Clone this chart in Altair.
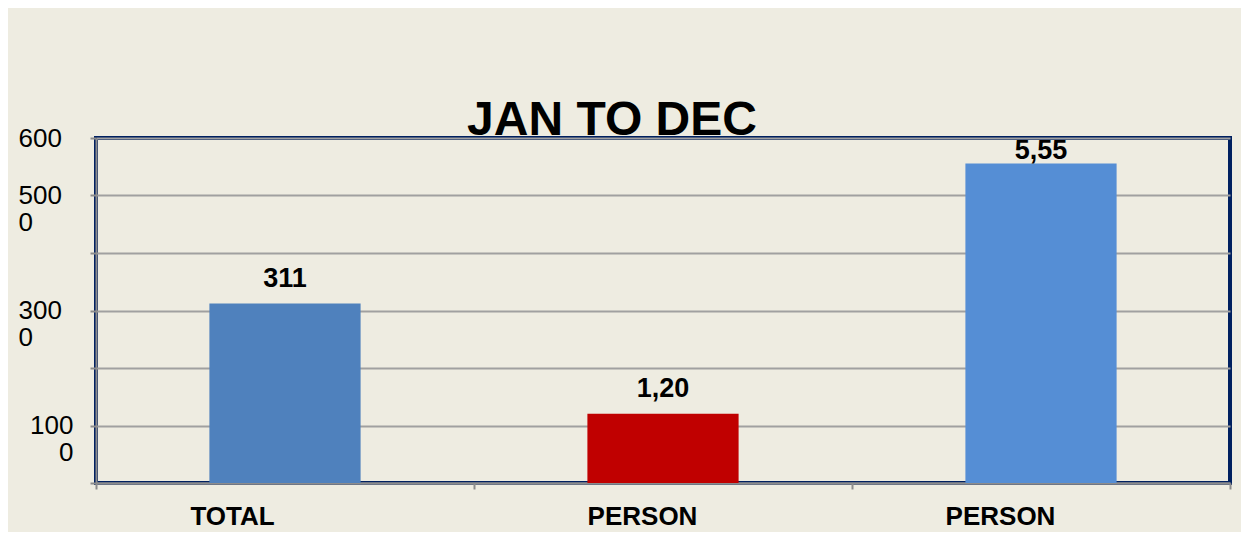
import json
import altair as alt
import pandas as pd

# ---- data ----
categories = ["TOTAL", "PERSON", "PERSON"]
values = [3120, 1205, 5555]
value_labels = ["311", "1,20", "5,55"]
bar_colors = ["#4F81BD", "#C00000", "#558ED5"]
y_tick_values = [0, 1000, 2000, 3000, 4000, 5000, 6000]
y_tick_labels = ["", "100|0", "", "300|0", "", "500|0", "600"]
title_text = "JAN TO DEC"

df = pd.DataFrame({
    "idx": list(range(len(categories))),
    "category": categories,
    "value": values,
    "label": value_labels,
    "color": bar_colors,
})

FONT = "Liberation Sans"
GRAY = "#8C8C8C"

x_label_expr = f"{json.dumps(categories)}[datum.value]"
y_label_expr = (
    f"split({json.dumps(y_tick_labels)}[indexof({json.dumps(y_tick_values)}, datum.value)], '|')"
)

x_enc = alt.X(
    "idx:O",
    scale=alt.Scale(paddingInner=0, paddingOuter=0),
    axis=alt.Axis(
        title=None,
        labelExpr=x_label_expr,
        labelAngle=0,
        labelFont=FONT,
        labelFontSize=26,
        labelFontWeight="bold",
        labelColor="black",
        labelPadding=14,
        labelBaseline="top",
        labelOffset={
            "condition": [
                {"test": "datum.value == 0", "value": -53},
                {"test": "datum.value == 1", "value": -21},
            ],
            "value": -41,
        },
        tickBand="extent",
        tickSize=6,
        tickWidth=2,
        tickColor=GRAY,
        domainColor=GRAY,
        domainWidth=2,
        grid=False,
    ),
)

y_enc = alt.Y(
    "value:Q",
    scale=alt.Scale(domain=[0, 6000], nice=False),
    axis=alt.Axis(
        title=None,
        values=y_tick_values,
        labelExpr=y_label_expr,
        labelFont=FONT,
        labelFontSize=26,
        labelColor="black",
        labelBaseline="top",
        labelOffset=-13,
        labelLineHeight=27,
        labelOverlap=False,
        labelFlush=False,
        labelAlign={"condition": {"test": "datum.value == 1000", "value": "right"}, "value": "left"},
        labelPadding={"condition": {"test": "datum.value == 1000", "value": 17}, "value": 72},
        tickSize=6,
        tickWidth=2,
        tickColor=GRAY,
        domainColor=GRAY,
        domainWidth=2,
        grid=True,
        gridColor="#A0A0A0",
        gridWidth=2,
    ),
)

bars = alt.Chart(df).mark_bar(width=alt.RelativeBandSize(0.4)).encode(
    x=x_enc,
    y=y_enc,
    color=alt.Color("color:N", scale=None),
)

labels = alt.Chart(df).transform_calculate(
    label_pos="min(datum.value, 5345)"
).mark_text(
    font=FONT, fontSize=27, fontWeight="bold", color="black", baseline="middle", dy=-25
).encode(
    x=alt.X("idx:O"),
    y=alt.Y("label_pos:Q"),
    text="label:N",
)

chart = alt.layer(bars, labels).properties(
    width=1134,
    height=345,
    autosize=alt.AutoSizeParams(type="none"),
    padding={"left": 88, "top": 130, "right": 11, "bottom": 49},
    title=alt.Title(
        title_text,
        font=FONT,
        fontSize=48,
        fontWeight="bold",
        color="black",
        anchor="middle",
        baseline="alphabetic",
        offset=0,
        dx=-51,
        dy=58,
    ),
).configure(
    background="#EEECE1",
).configure_view(
    stroke="#002060",
    strokeWidth=4,
)

chart.save("out.html", embed_options={"renderer": "svg", "actions": False})
